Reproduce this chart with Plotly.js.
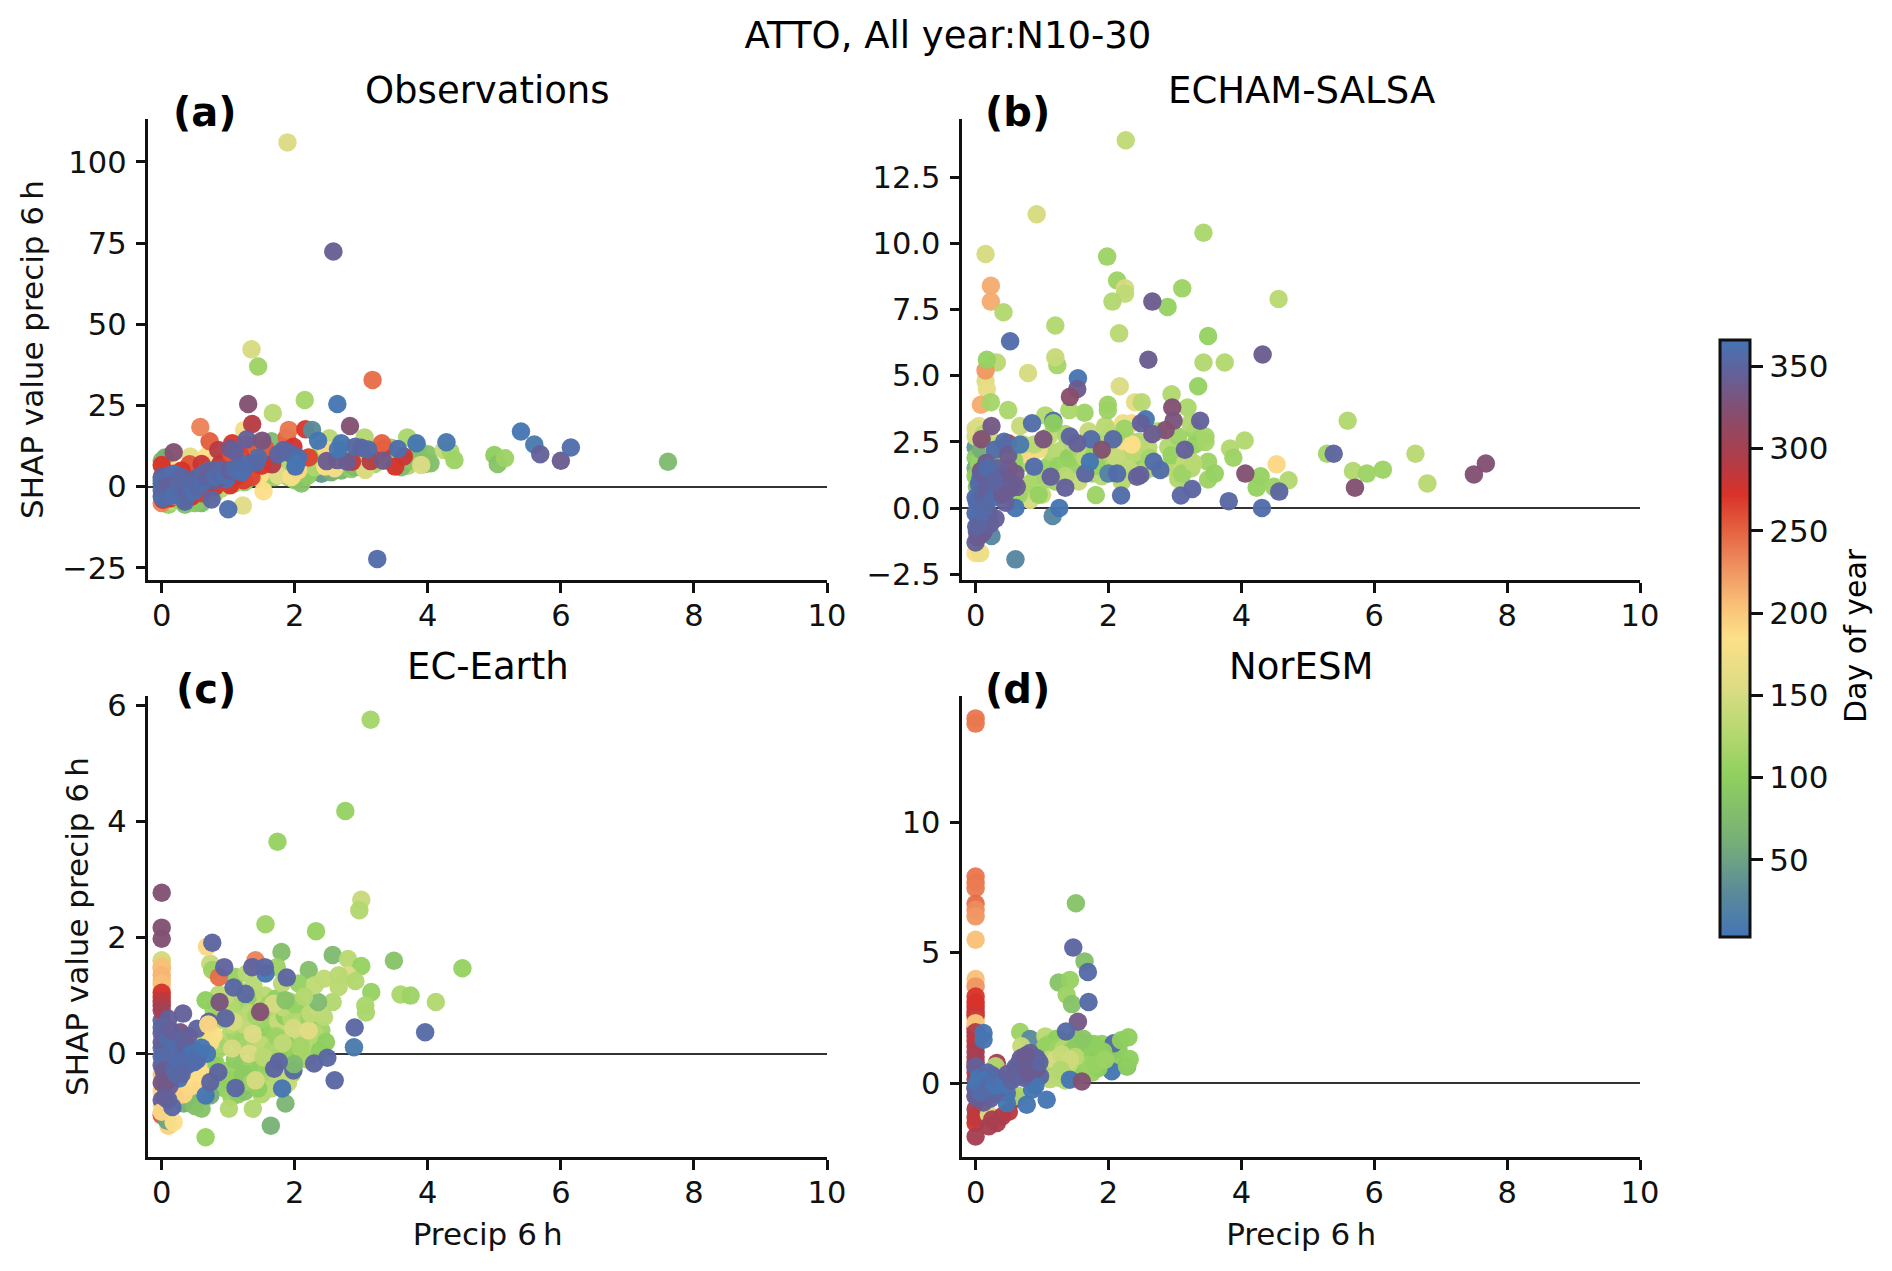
<!DOCTYPE html>
<html>
<head>
<meta charset="utf-8">
<script src="https://cdn.plot.ly/plotly-3.0.1.min.js"></script>
<style>
  html, body { margin: 0; padding: 0; background: #fff; }
</style>
</head>
<body>
<div id="myDiv" style="width:1892px;height:1271px"></div>
<script>
// values, panel by panel
var obsPrecip = [
  0,0.03,0.05,0.02,0,0.05,0.1,0.15,0.35,0.6,
  0.5,0.25,0.8,0.9,1,1.2,1.3,1.5,1.7,1.85,
  2,2.1,2.15,2,1.9,1.8,1.6,1.4,1.65,2.4,
  2.55,2.7,2.85,3,3.15,3.4,3.55,3.7,3.95,3.9,
  4.04,4,3.69,3.05,2.52,2.15,1.67,1.45,1.35,1.89,
  5,5.05,5.16,4.24,4.34,4.4,3.2,3.45,2.4,2.75,
  0.3,0.45,0.6,0.75,0.9,1.1,1.25,1.4,1.55,1.7,
  1.9,2.05,2.2,2.3,2.45,2.6,2.75,2.9,3.05,3.2,
  3.3,3.45,3.6,3.75,3.85,2.2,2.4,2.6,2.8,3,
  0.1,0.2,0.43,0.67,0.7,0.85,1.05,1.24,1.48,1.25,
  1.75,1.95,2.05,2.48,2.46,2.6,3.06,3.9,1.53,1.22,
  0,0.42,0.72,0.58,1.06,0.85,1.28,1.18,1.56,1.66,
  1.88,1.91,2.16,1.36,2.21,3.51,3.14,2.86,3.34,3.31,
  3.64,1.98,0,0.33,0.13,0.65,1.03,1.23,0.88,1.33,
  0.02,0.08,0.15,0.22,0.3,0.38,0.45,0.52,0.6,0.7,
  0.8,0.9,0.95,1.1,1.15,1.35,1.5,1.05,0.6,0.3,
  0.48,0.28,3.17,0.75,0.35,1,3.24,2.58,1.3,2.83,
  2.26,2.64,0.18,1.03,1.28,1.51,2.48,2.64,2.79,3.33,
  2.35,2.7,2.91,3.55,3.83,4.28,5.4,5.6,5.69,6,
  6.15,7.61,2.01,1.98,1.83,1.42,1.23,0.97,0.68,0.55,
  0,0,0,0,0.02,0.05,0.08,0.1,0.12,0.15,
  0.18,0.2,0.22,0.25,0.28,0.3,0.35,0.4,0.45,0.5,
  0.55,0.6,0.65,0.7,0.75,0.85,0.9,1.05,1.15,0.8,
  0.02,0.06,0.1,0.14,0.18,0.24,0.3,0.36,0.42,0.48,
  0.54,0.6,0.66,0.72,0.8,0.88,0.95,1.02,1.1,1.2,
  1.25,1.45,1.75,1.9,2.05,2.02,2.65,3,3.1,1.1
];
var obsShap = [
  8,6,9,4,2,-3,-5.5,-4.5,-5.5,-5,
  -5,-4,-2,1,2,3,4,5,4.5,4,
  2,1,4,5,6,8,9,13,14,4,
  4.5,5,5.5,7,9,8,7,6.5,7,9,
  7.2,10,15.2,15.2,14.9,26.7,22.7,37,42.3,106,
  9.8,7,8.8,11.3,10.8,8.2,11,12,11,9.5,
  -3,-2,-1,0,-0.5,1,1.5,3,2,3,
  3,7,3.5,6,8,7,7,6,5.5,7,
  9,11,6,8,12,9,12,11,12,11,
  3,5,9.3,9.3,6,4,6,17.5,3.6,5,
  3.5,3,5,11.3,6.2,5.7,5.2,6.7,-1.4,-5.8,
  6.7,6.9,14,18.4,13.4,11.3,12.9,9.8,11.7,6.9,
  15.2,17.5,17.7,19.3,9,6.2,7.9,7.7,11.8,13.4,
  9.3,12.3,-5,-4,-3.5,-0.5,0.5,2,7,7.2,
  -4,-1,1,-3,2,-2,-3,0,-2,2,
  0,5,1.5,3,8,3,6.5,10,7,5,
  1,-1,32.9,-3.9,-4.6,-6.9,-22.2,72.4,25.5,18.7,
  17.5,25.5,10.6,11.8,14.6,14.2,7.9,8.2,7.7,8,
  14.2,13.4,12.3,11.6,13.4,13.7,17,13,10,8,
  12.1,7.7,6.2,9.8,11.3,7.5,5.4,2.3,4.7,3,
  3,1,-1,-3,2,0,-2,1,3.5,-1,
  4,0,-2.5,2,-1,3,0,2,-1,1,
  2.5,3,4,2,5,4,3,4.5,6,2,
  -3.5,-1,-3,0.5,-2.5,1.5,-2,-1,0.5,-1.5,
  0,1,3,4.5,3,5,3.5,5,5.5,4.5,
  7,9,10,10.5,9,7,11.5,12,11.5,11
];
var obsDay = [
  80,95,60,110,70,120,105,130,80,75,
  90,100,110,95,110,120,135,140,150,110,
  100,85,115,130,120,125,110,85,75,40,
  60,70,100,110,125,105,100,120,70,90,
  80,85,120,125,130,115,130,110,150,155,
  100,85,110,140,115,110,100,105,125,110,
  105,120,100,115,130,110,95,125,135,105,
  110,90,95,120,105,130,85,75,100,115,
  100,125,75,90,80,125,110,130,105,115,
  170,190,165,185,175,190,180,175,185,160,
  160,180,190,190,185,175,155,155,185,160,
  272,258,252,235,270,290,255,265,255,295,
  250,240,270,290,265,272,290,280,272,250,
  280,275,235,272,272,270,272,268,285,280,
  272,255,268,240,272,265,272,275,268,272,
  272,270,268,272,255,265,272,258,280,272,
  272,268,245,350,355,360,358,342,325,325,
  30,5,325,335,345,330,340,340,340,335,
  5,5,355,360,5,8,5,10,345,340,
  360,75,360,350,350,355,358,360,358,355,
  345,360,355,350,358,352,360,345,355,350,
  360,355,350,358,345,352,360,348,355,352,
  345,350,358,355,352,360,345,358,355,340,
  358,350,355,345,360,352,358,350,355,360,
  352,358,350,345,358,352,360,345,358,360,
  358,355,350,352,358,5,5,350,355,345
];

var echamPrecip = [
  0,0,0,0.02,0.03,0.05,0.08,0.1,0.12,0.15,
  0,0.05,0.2,0.25,0.3,0.35,0.4,0.5,0.55,0.6,
  0.7,0.75,0.8,0.9,1,1,1.1,1.15,1.2,1.3,
  0.82,0.95,1.35,1.4,1.5,1.55,1.6,1.7,1.75,1.85,
  1.9,2,2.05,2.1,2.15,2.2,2.25,2.3,2.35,2.4,
  2.45,2.5,2.6,2.7,2.75,2.9,3,3.05,3.1,3.2,
  3.25,3.3,0.15,0.17,0.08,0.23,0.49,1.64,1.41,1.05,
  0,0.02,0.05,0.08,0,0.12,0.18,0.22,0.28,0.35,
  0.42,0.5,0.58,0.65,0.72,0.8,0.88,0.95,1.05,1.1,
  1.25,1.35,1.45,1.55,1.65,1.78,1.9,2,2.12,2.3,
  2.4,2.55,2.62,2.85,2.95,3.05,3.15,3.3,1.95,2.35,
  2.26,0.92,0.15,3.43,1.98,2.13,2.25,2.25,2.06,3.11,
  2.89,4.56,0.23,0.23,0.42,1.2,2.16,3.5,1.23,1.2,
  3.43,3.75,0.32,0.15,0.17,0.79,2.17,3.35,2.95,2.4,
  2.5,3.19,1.99,1.99,0.67,2.22,2.24,3.23,3.46,3.46,
  3.83,4.05,3.88,3.5,5.29,5.6,6.62,5.68,5.89,6.13,
  6.8,4.53,4.29,4.23,4.49,4.71,1.81,2.2,1.83,3.11,
  3.5,3.6,3.28,0,0.07,0.49,0.6,2,1.16,0.24,
  2.66,0.52,2.6,4.32,1.54,1.53,1.42,2.56,2.49,2.96,
  2.98,3.38,2.86,2.66,1.02,1.42,1.74,2.07,1.53,0.43,
  0.09,0.29,0.49,0.67,1.9,3.15,1.17,1.17,0.85,0.24,
  5.39,5.71,4.06,4.57,4.31,3.81,3.26,3.09,2.19,2.78,
  2.68,2.48,2.43,1.65,1.35,1.13,0.88,1.72,2.13,1.26,
  7.68,7.5,0.6,0,0.02,0.05,0.08,0,0.1,0.15,
  0.2,0.25,0.3,0.15,0.35,0.4,0.45,0.5,0.55,0.6,
  0.05,0.1,0.02,0.2,0.12,0.3,0.08,0.16,0.22,0,
  0.03,0.07,0.12,0.17,0.22,0.27,0.33,0.38,0.44,0.05,
  0.07,0.03,0.01,0.12,0.1,0.18,0.5,0.62,0.4,0.28
];
var echamShap = [
  2.3,1.9,1.5,2.9,1.1,0.7,2.5,2,1.5,0.4,
  2.7,3.1,2.8,1.6,1.2,0.5,1.8,1.4,0.8,0.3,
  1.7,0.6,2,1.2,0.5,2.4,1.6,2.1,1,2.2,
  0.3,2.2,2.8,1.9,1.6,1,2.1,2.9,1.3,2.5,
  1.2,2,2.9,1.6,2.3,1,2.8,1.9,3.2,1.4,
  2.5,1.7,2.3,1.5,2.9,2.3,1.6,2.7,1.2,1.9,
  1.5,2.9,4.8,4.5,3.9,4,3.7,3.6,3.7,3.5,
  1.2,0.8,1.7,2.2,3,2.8,1.3,0.6,2.3,1.6,
  0.9,2.2,1.8,0.5,2.4,0.9,2.4,0.5,1.1,2.7,
  1.6,1.2,2.5,2.3,1.9,2,1.8,2.4,1.9,1.5,
  2.1,1.4,1.9,1.5,2,1.1,1.7,2.4,3.1,2.4,
  13.9,11.1,9.6,10.4,9.5,8.6,8.3,8.1,7.8,8.3,
  7.6,7.9,8.4,7.8,7.4,6.9,6.6,6.5,5.4,5.7,
  5.5,5.5,5.5,5.2,5.6,5.1,4.6,4.6,4.3,4,
  4,3.8,3.9,3.7,3.1,3.2,3,3.2,2.7,2.5,
  2.25,2.55,1.9,1.75,2.05,3.3,2.05,1.4,1.3,1.45,
  0.93,1.65,1.2,0.77,0.8,1.05,0.49,1,1.6,1.3,
  1.08,1.3,1.7,-1.7,-1.7,2.45,-1.94,1.3,-0.3,-1.06,
  7.8,6.3,5.6,5.8,4.9,4.5,4.2,3.35,3.2,3.8,
  3.3,3.3,2.95,2.8,2.6,2.7,2.6,2.6,2.45,2.5,
  2.6,2.2,2,2.4,2.2,2.2,3.3,3.2,3.2,3.1,
  2.05,0.77,1.3,0.62,0,0.26,0.72,0.47,0.47,1.44,
  1.75,1.25,1.18,1.3,0.77,1.18,1.56,1.75,1.3,0,
  1.68,1.27,0,-1.3,-0.9,-0.6,-1,-0.2,-0.4,0.1,
  0.5,0.9,1.1,1.2,0.6,1.2,0.2,1.5,0.9,1.3,
  0.9,0.7,0.2,-0.2,-0.9,-0.4,1.4,1.7,-0.6,0.4,
  0.3,1.1,0.4,0.7,1.3,0.4,1.5,0.9,1,-0.3,
  -0.8,-1.1,-0.7,0,1.3,1.5,0.7,0.8,0.5,1
];
var echamDay = [
  40,95,60,140,110,120,150,125,105,130,
  150,165,150,115,105,110,130,110,125,105,
  115,100,190,120,140,130,105,125,110,130,
  150,170,120,100,105,140,125,140,110,120,
  130,105,130,110,175,140,115,130,190,110,
  125,105,130,110,120,125,135,110,105,130,
  125,110,160,165,215,115,120,110,120,125,
  100,85,105,60,155,130,95,110,140,105,
  115,125,105,110,140,120,130,105,115,135,
  105,130,125,115,135,110,125,130,140,135,
  130,125,115,130,105,125,135,105,130,185,
  135,150,150,120,110,110,150,135,125,110,
  105,130,215,215,125,125,130,105,115,140,
  125,125,130,225,105,150,155,105,125,165,
  130,120,110,110,140,170,110,125,115,115,
  125,125,110,110,115,125,130,125,110,110,
  130,190,105,105,110,125,110,130,105,110,
  110,105,130,180,170,270,25,20,25,25,
  340,358,340,340,5,340,320,5,345,325,
  330,345,325,340,330,350,358,355,345,358,
  325,358,340,10,325,345,358,100,358,335,
  350,325,325,350,358,352,350,352,358,358,
  358,345,345,350,345,345,358,5,358,5,
  325,325,5,345,340,350,335,355,345,358,
  350,345,358,355,340,355,345,335,345,335,
  355,358,360,350,340,345,330,340,345,358,
  358,355,350,345,340,358,345,350,340,360,
  345,340,350,355,345,358,345,340,340,350
];

var ecPrecip = [
  0.62,0.75,0.85,0.95,1,1.1,1.2,1.25,1.35,1.45,
  1.5,1.55,1.6,1.65,1.7,1.75,1.8,1.9,1.95,2.05,
  1.1,1.2,1.3,1.4,1.55,1.65,1.75,1.85,2.1,2.2,
  2.25,2.4,0.8,0.7,0.95,1.05,1.15,1.25,1.5,1.65,
  1.85,1.75,1.9,0.33,0.42,0.5,0.6,0.73,1.86,1.64,
  0.65,0.72,0.8,0.88,0.95,1.02,1.1,1.18,1.25,1.32,
  1.4,1.45,1.5,1.58,1.65,1.72,1.8,1.88,1.95,2.02,
  2.1,2.18,2.3,2.38,1.12,1.22,1.32,1.42,1.52,1.62,
  1.72,1.82,1.92,2,1.35,1.45,1.05,0.9,0.78,1.15,
  0.66,1.37,1.01,3.14,2.76,1.74,3,2.97,1.56,2.32,
  1.8,2.57,2.8,3.49,4.52,3,2.21,2.8,2.91,3.15,
  3.59,3.74,4.12,3.06,3.07,2.47,2.09,1.82,1.98,2.21,
  2.44,2.24,2.57,2.35,1.68,0.86,0.66,0.73,0.76,1.11,
  1.28,1.73,2.06,2.3,2.44,2.66,2.66,1.81,2.14,1.86,
  1.38,0.96,0.78,1.37,1.06,1.31,1.53,1.08,1.41,1.56,
  0.86,1.48,0.87,2.6,1.98,1.99,1.76,1.69,2.29,2.49,
  3.96,2.9,2.89,1.81,1.41,1.11,1.26,1.08,0.94,1.36,
  1.55,1.88,0.68,0.76,0.32,0.96,0.71,0.53,0.28,0,
  0,0,0,0,0,0,0,0,0,0,
  0,0,0,0,0,0,0,0,0,0,
  0,0,0,0,0,0.1,0.08,0.18,0,0.33,
  0.43,0.58,0.4,0.55,0.6,0.7,0.73,0.5,0.3,0.2,
  0.66,0.73,0.85,0.26,0.68,0.53,0.38,0.16,0.1,0.2,
  0.05,0.1,0.15,0.25,0.3,0.35,0.08,0.12,0.02,0.45,
  0,0,0,0.03,0.06,0.1,0.14,0.18,0.22,0.28,
  0.32,0.38,0.44,0.5,0.55,0.6,0.48,0.4,0.3,0.04
];
var ecShap = [
  0.2,-0.1,-0.3,0.25,-0.45,0.35,-0.2,-0.55,0.1,-0.3,
  0.55,-0.45,0.3,0.6,-0.2,0.75,0.05,0.45,-0.35,0.3,
  0.75,0.9,0.55,0.95,1,0.35,0.55,0.65,0.75,0.55,
  0.15,0.4,0.55,-0.6,-0.6,-0.75,-0.7,-0.65,-0.7,-0.6,
  -0.55,-0.4,-0.5,-0.86,-0.8,-0.9,-0.95,-0.72,-0.86,-1.24,
  -0.3,0.4,-0.15,0.1,-0.3,0.5,-0.1,0.2,0.5,-0.35,
  0.2,-0.1,0.15,-0.2,0.05,0.3,-0.3,0.15,0.6,-0.05,
  0.1,-0.1,0.35,0.05,-0.45,-0.35,0.7,0.65,0.8,0.85,
  0.95,0.8,0.9,0.85,-0.5,-0.6,0.8,0.7,0.75,1.1,
  -1.44,-0.95,-0.95,5.75,4.18,3.65,2.65,2.47,2.23,2.11,
  1.75,1.7,1.63,1.6,1.47,1.51,1.44,1.35,1.25,1.06,
  1.02,1,0.89,0.83,0.71,0.2,0.13,0.18,0.44,0.4,
  0.63,0.69,0.89,0.89,0.86,1.02,0.92,1.55,1.44,1.32,
  1.38,1.49,1.21,1.18,1.29,1.35,1.15,1.21,0.98,0.92,
  1.18,1,0.32,0.34,0.09,0,-0.06,0.55,1.61,1.38,
  1.32,0.72,0.89,-0.46,-0.29,-0.18,-0.14,-0.26,-0.17,-0.07,
  0.37,0.45,0.11,-0.6,-0.46,-0.59,1.03,1.14,1.49,1.49,
  1.49,1.31,1.84,1.91,0.69,0.61,0.55,0.43,0.37,2.77,
  2.17,1.98,1.61,1.47,1.26,1.1,0.98,0.83,0.57,0.35,
  1.6,1.5,1.35,1.2,1.05,0.9,0.75,-0.9,-0.65,-0.35,
  0.1,-0.2,-0.5,-0.8,-1.06,-1.24,-1.15,-1.18,-1,-0.7,
  -0.57,-0.55,-0.35,-0.2,-0.35,0.5,0.2,0.1,0.2,-0.75,
  -0.72,-0.49,-0.32,-0.43,0,-0.11,-0.2,-0.92,-0.8,0.1,
  0.3,0.6,-0.1,0.05,-0.05,0.2,-0.4,-0.55,-0.1,0.05,
  0.45,0.2,-0.05,-0.3,-0.5,0.25,0.4,-0.25,-0.35,-0.15,
  0.25,-0.1,0,0.05,0,0.1,-0.15,0.3,-0.35,-0.75
];
var ecDay = [
  120,105,110,125,100,115,105,85,125,110,
  105,115,85,110,100,125,105,130,110,140,
  130,110,125,100,130,105,140,100,115,105,
  125,110,120,90,100,110,95,85,125,130,
  120,130,140,60,70,80,85,60,70,65,
  110,125,100,115,105,130,95,110,135,100,
  120,100,135,105,120,110,135,100,125,105,
  130,115,125,100,105,95,130,115,135,110,
  100,135,120,105,110,100,125,135,110,130,
  105,125,125,115,105,105,140,125,110,105,
  80,75,130,85,105,105,80,155,125,105,
  120,110,125,120,120,100,115,135,150,160,
  130,135,125,75,150,130,100,140,110,105,
  130,110,105,135,135,130,130,130,125,85,
  130,135,185,155,150,155,130,150,235,5,
  245,325,330,352,355,75,350,350,350,352,
  355,352,10,5,150,352,352,352,348,348,
  352,350,190,350,345,350,350,350,330,325,
  325,325,150,215,205,200,285,300,345,350,
  150,205,210,205,275,290,300,185,190,200,
  355,345,330,345,255,195,50,185,190,190,
  190,190,185,190,185,190,180,175,170,195,
  5,350,350,5,5,358,358,352,350,358,
  358,345,5,358,352,340,340,345,355,358,
  350,345,355,340,335,358,345,352,355,358,
  350,355,358,5,358,5,358,345,352,345
];

var norPrecip = [
  0,0,0,0,0,0,0,0,0,0,
  0,0,0,0,0,0,0,0,0,0,
  0,0,0,0,0,0,0,0,0,0,
  0,0,0,0,0,0.12,0.12,0.32,0.3,0.67,
  0.2,0.32,0.2,0.4,0.25,0.5,0.6,0.65,0.78,0.85,
  0.82,1.05,0.69,0.95,1,1.1,1.15,1.2,1.25,1.3,
  1.35,1.4,1.45,1.5,1.55,1.6,1.62,1.68,1.75,1.8,
  0.95,1.02,1.1,1.18,1.22,1.3,1.38,1.42,1.5,1.55,
  1.6,1.68,1.72,1.78,1.85,1.9,1.95,2.02,2.1,2.15,
  1.05,1.12,1.25,1.32,1.45,1.52,1.4,1.62,1.12,1.35,
  2.08,1.92,2.05,2.28,2.3,2.19,2.32,1.85,1.8,1.95,
  2.28,1.2,1.3,1.4,1.5,1.42,1.28,0.97,0.92,0.7,
  1.51,1.47,1.64,1.69,1.25,1.42,1.37,1.45,1.7,1.54,
  1.36,1.42,1.6,0.85,1.07,0.77,0.47,0.47,0.2,0.32,
  0,0.05,0,0.1,0.15,0.25,0.35,0.42,0.55,0.6,
  0.7,0.75,0.85,0.9,0.05,0,0.12,0.22,0.18,0.3,
  0.02,0.08,0.13,0.18,0.24,0.3,0.36,0.42,0.48,0.54,
  0.6,0.65,0.72,0.78,0.82,0.88,0.92,0.96,0.68,0.75
];
var norShap = [
  14,13.8,7.93,7.7,7.48,6.88,6.65,6.4,5.5,3.99,
  3.71,3.32,2.94,2.75,2.45,2.1,1.8,1.4,1,0.8,
  3.1,2.6,2.3,1.95,1.6,1.2,0.6,0.4,0.15,-0.2,
  -0.5,-1,-1.53,-1.3,-2.05,1.92,1.66,0.77,0.64,1.96,
  -1.21,-1.53,-1.66,-1.28,-1.4,-1.1,-0.6,-0.5,0.6,0.3,
  1.69,1.79,1.41,1,0.5,1.5,0.8,1.2,0.2,1.6,
  0.6,1,1.4,1.7,0.3,1.2,0.8,1.55,0.4,1.2,
  0.7,1.2,0.3,0.6,1.7,0.9,0.2,1.4,0.5,0.9,
  0.5,1.1,0.7,1.5,0.9,1.5,0.7,1.1,0.9,1.3,
  1.4,0.9,1.35,1.3,1.25,1.45,0.8,1.7,0.15,0.1,
  1.53,1.21,0.45,0.64,1.76,1.64,0.92,0.58,0.7,0.9,
  0.64,0.9,1.1,0.7,1,0.9,0.5,0.26,0.96,0.83,
  6.9,5.2,4.67,4.26,3.86,3.96,3.39,3.03,3.11,2.35,
  1.98,0.13,0.06,-0.26,-0.64,-0.83,-0.38,-0.77,0,-0.1,
  0.64,0.2,-0.2,-0.3,0.2,0.3,-0.2,0.1,0.2,0.6,
  0.3,0.5,0.7,-0.1,-0.6,-0.5,-0.75,-0.6,0.4,-0.4,
  0,-0.35,0.1,-0.2,0,-0.1,0.15,-0.05,0.35,0.1,
  0.3,0.75,0.2,0.4,1.15,0.95,0.55,0.8,0.95,1.05
];
var norDay = [
  240,240,240,240,238,245,230,225,205,205,
  225,270,295,275,200,280,290,295,300,300,
  272,280,200,295,285,300,295,290,300,295,
  295,300,275,285,300,5,5,300,125,110,
  155,295,300,295,298,290,295,120,130,125,
  30,130,140,125,135,110,130,105,125,110,
  135,105,100,85,110,120,140,100,105,95,
  125,110,135,115,100,130,105,120,110,130,
  105,100,110,100,95,100,105,100,100,95,
  105,135,110,125,100,95,145,90,130,130,
  355,100,5,5,100,100,100,100,105,110,
  100,150,140,135,130,145,125,350,350,350,
  85,350,80,355,85,105,110,85,355,335,
  355,5,325,5,5,5,358,5,358,358,
  345,5,355,358,350,345,355,345,350,350,
  345,350,345,5,330,345,340,345,355,350,
  5,358,5,355,358,5,358,5,345,350,
  345,345,350,340,345,345,340,350,345,340
];

var xTicks = [0, 2, 4, 6, 8, 10];
var obsTicks = [-25, 0, 25, 50, 75, 100];
var echamTicks = [-2.5, 0, 2.5, 5, 7.5, 10, 12.5];
var ecTicks = [0, 2, 4, 6];
var norTicks = [0, 5, 10];
var dayTicks = [50, 100, 150, 200, 250, 300, 350];

var W = 1892, H = 1271;
var fontName = '"DejaVu Sans", sans-serif';

// colours follow the colour bar, position = (day - 3) / 363
var dayColours = [
  [0, '#4474b4'], [0.074, '#5a8a9a'], [0.157, '#76ae78'], [0.267, '#8fcf5f'],
  [0.35, '#b9d972'], [0.419, '#dcdc84'], [0.501, '#fddf88'], [0.556, '#f9c078'],
  [0.625, '#ee8d5e'], [0.694, '#e2583a'], [0.741, '#d9322a'], [0.804, '#ad3d4b'],
  [0.887, '#825073'], [0.942, '#64609a'], [1, '#4574b4']
];

function px(x) { return x / W; }
function py(y) { return 1 - y / H; }

function panel(x, y, day, n) {
  return {
    type: 'scatter', mode: 'markers', x: x, y: y,
    xaxis: 'x' + n, yaxis: 'y' + n,
    hoverinfo: 'skip', showlegend: false,
    marker: { color: day, coloraxis: 'coloraxis', size: 18.5, opacity: 0.96, line: { width: 0 } }
  };
}

function xAxis(left, right, top, bottom, anchor, label) {
  var ax = {
    domain: [px(left), px(right)], range: [-0.2, 10], anchor: anchor,
    tickmode: 'array', tickvals: xTicks,
    showgrid: false, zeroline: false, showline: true, linewidth: 2.5, linecolor: '#111',
    ticks: 'outside', ticklen: 10, tickwidth: 2.5, tickcolor: '#111', ticklabelstandoff: -3,
    tickfont: { size: 30.5, family: fontName, color: '#111' }
  };
  if (label) ax.title = { text: label, font: { size: 31, family: fontName, color: '#111' }, standoff: 14 };
  return ax;
}

function yAxis(top, bottom, range, ticks, anchor, label, fmt) {
  var ax = {
    domain: [py(bottom), py(top)], range: range, anchor: anchor,
    tickmode: 'array', tickvals: ticks, tickformat: fmt,
    showgrid: false, zeroline: true, zerolinecolor: '#333', zerolinewidth: 2,
    showline: true, linewidth: 2.5, linecolor: '#111',
    ticks: 'outside', ticklen: 10, tickwidth: 2.5, tickcolor: '#111', ticklabelstandoff: 3,
    tickfont: { size: 30.5, family: fontName, color: '#111' }
  };
  if (label) ax.title = { text: label, font: { size: 31, family: fontName, color: '#111' }, standoff: 10 };
  return ax;
}

function label(text, x, y, size, bold, angle) {
  return {
    text: bold ? '<b>' + text + '</b>' : text,
    xref: 'paper', yref: 'paper', x: px(x), y: py(y),
    xanchor: 'center', yanchor: 'middle', showarrow: false, textangle: angle || 0,
    font: { size: size, family: fontName, color: '#000' }
  };
}

var xLabel = 'Precip 6\u2009h';
var yLabel = 'SHAP value precip 6\u2009h';

var traces = [
  panel(obsPrecip, obsShap, obsDay, ''),
  panel(echamPrecip, echamShap, echamDay, '2'),
  panel(ecPrecip, ecShap, ecDay, '3'),
  panel(norPrecip, norShap, norDay, '4')
];

var layout = {
  width: W, height: H,
  margin: { l: 0, r: 0, t: 0, b: 0, pad: 0 },
  paper_bgcolor: '#fff', plot_bgcolor: 'rgba(0,0,0,0)',
  font: { family: fontName, color: '#000' },
  title: {
    text: 'ATTO, All year:N10-30', x: 948 / W, xanchor: 'center', xref: 'paper',
    y: py(35), yanchor: 'middle', yref: 'paper',
    font: { size: 37, family: fontName, color: '#000' }
  },
  xaxis: xAxis(148.4, 827, 119, 580, 'y'),
  yaxis: yAxis(119, 580, [-28.7, 113.2], obsTicks, 'x', yLabel),
  xaxis2: xAxis(962.3, 1640, 119, 580, 'y2'),
  yaxis2: yAxis(119, 580, [-2.72, 14.7], echamTicks, 'x2', null, '.1f'),
  xaxis3: xAxis(148.4, 827, 696, 1157, 'y3', xLabel),
  yaxis3: yAxis(696, 1157, [-1.78, 6.16], ecTicks, 'x3', yLabel),
  xaxis4: xAxis(962.3, 1640, 696, 1157, 'y4', xLabel),
  yaxis4: yAxis(696, 1157, [-2.84, 14.86], norTicks, 'x4'),
  coloraxis: {
    cmin: 3, cmax: 366, colorscale: dayColours,
    colorbar: {
      x: px(1720), xanchor: 'left', y: py(638.5), yanchor: 'middle',
      thickness: 30, thicknessmode: 'pixels', len: 597, lenmode: 'pixels',
      xpad: 0, ypad: 0, outlinewidth: 3, outlinecolor: '#111',
      tickmode: 'array', tickvals: dayTicks,
      ticks: 'outside', ticklen: 12, tickwidth: 2.5, tickcolor: '#111',
      tickfont: { size: 31, family: fontName, color: '#111' }
    }
  },
  annotations: [
    label('Observations', 488, 91, 37),
    label('ECHAM-SALSA', 1301, 91, 37),
    label('EC-Earth', 488, 666, 37),
    label('NorESM', 1301, 666, 37),
    label('(a)', 205, 112, 40, true),
    label('(b)', 1017, 112, 40, true),
    label('(c)', 206, 689, 40, true),
    label('(d)', 1017, 689, 40, true),
    label('Day of year', 1855, 636, 30, false, -90)
  ]
};

Plotly.newPlot(document.getElementById('myDiv'), traces, layout, { displayModeBar: false, responsive: false });
</script>
</body>
</html>
